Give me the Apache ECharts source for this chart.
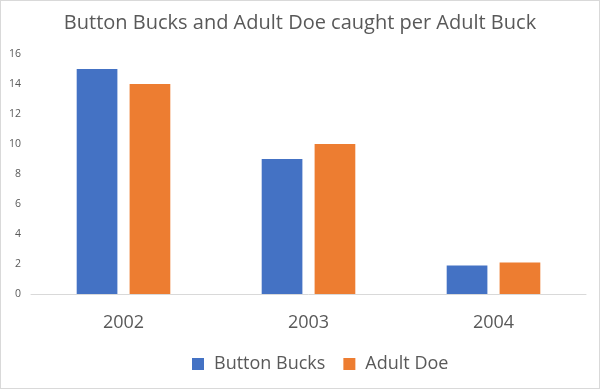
<!DOCTYPE html>
<html><head><meta charset="utf-8">
<script src="https://cdn.jsdelivr.net/npm/echarts@6/dist/echarts.min.js"></script>
<style>html,body{margin:0;padding:0;background:#fff}#c{width:598px;height:387px;border:1px solid #d9d9d9}</style>
</head><body><div id="c"></div>
<script>
var categories = ['2002', '2003', '2004'];
var buttonBucks = [15, 9, 1.9];
var adultDoe = [14, 10, 2.1];
var yTicks = [0, 2, 4, 6, 8, 10, 12, 14, 16];

var chart = echarts.init(document.getElementById('c'));
var font = 'Open Sans, sans-serif';
chart.setOption({
  animation: false,
  title: {text: 'Button Bucks and Adult Doe caught per Adult Buck', left: 'center', top: 7,
    textStyle: {fontFamily: font, fontSize: 20, fontWeight: 'normal', color: '#595959'}},
  legend: {left: 186, bottom: 10, itemWidth: 12, itemHeight: 12, itemGap: 18, icon: 'rect',
    textStyle: {fontFamily: font, fontSize: 18, color: '#595959', padding: [0, 0, 0, 5]},
    data: ['Button Bucks', 'Adult Doe']},
  grid: {left: 30, right: 13, top: 53, bottom: 94},
  xAxis: {type: 'category', data: categories,
    axisLine: {lineStyle: {color: '#d9d9d9'}}, axisTick: {show: false},
    axisLabel: {fontFamily: font, fontSize: 18, color: '#595959', margin: 20}},
  yAxis: {type: 'value', min: yTicks[0], max: yTicks[yTicks.length-1], interval: 2,
    splitLine: {show: false}, axisLine: {show: false},
    axisLabel: {fontFamily: font, fontSize: 10.5, color: '#595959', margin: 10}},
  series: [
    {name: 'Button Bucks', type: 'bar', data: buttonBucks, barWidth: '22%', barGap: '30%',
      itemStyle: {color: '#4472c4'}},
    {name: 'Adult Doe', type: 'bar', data: adultDoe, barWidth: '22%',
      itemStyle: {color: '#ed7d31'}}
  ]
});
</script></body></html>
